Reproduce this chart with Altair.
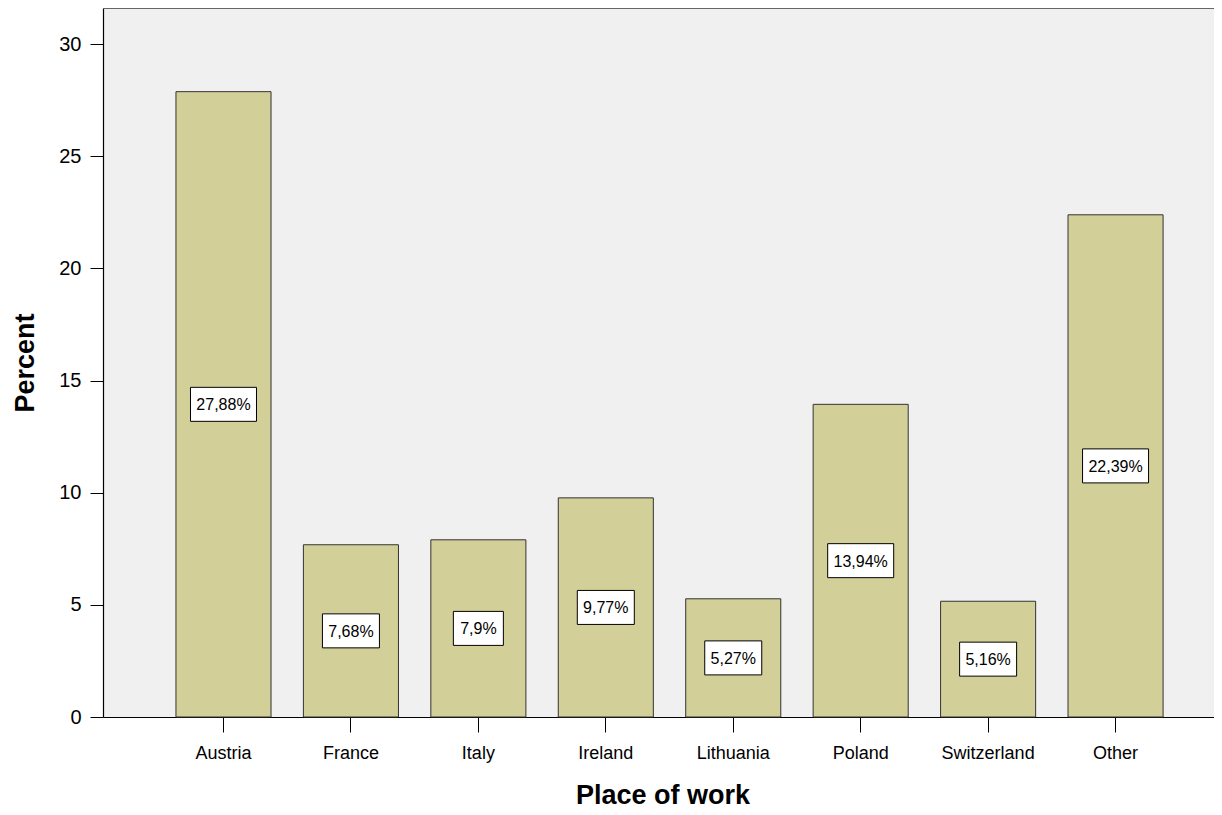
import altair as alt
import pandas as pd

categories = ["Austria", "France", "Italy", "Ireland", "Lithuania", "Poland", "Switzerland", "Other"]
values = [27.88, 7.68, 7.9, 9.77, 5.27, 13.94, 5.16, 22.39]
labels = [f"{v:g}".replace(".", ",") + "%" for v in values]
y_ticks = [0, 5, 10, 15, 20, 25, 30]

df = pd.DataFrame({"cat": categories, "pct": values, "label": labels})
df["mid"] = df["pct"] / 2
df["nchar"] = df["label"].str.len()

W, H = 1111, 709
FONT = "Liberation Sans"
box_w = {4: 50, 5: 57, 6: 66}

x = alt.X(
    "cat:N",
    sort=categories,
    scale=alt.Scale(paddingInner=0.254, paddingOuter=0.486, align=0.589),
    axis=alt.Axis(
        title="Place of work", labelAngle=0, labelFontSize=18, labelFont=FONT,
        labelColor="black", tickSize=15, labelPadding=12, tickColor="black",
        domainColor="black", domainWidth=1.2, titleFont=FONT, titleFontSize=27,
        titleFontWeight="bold", titleColor="black", titleY=65, titleX=W / 2 + 4,
    ),
)
y = alt.Y(
    "pct:Q",
    scale=alt.Scale(domain=[0, 31.61], nice=False, zero=True),
    axis=alt.Axis(
        title="Percent", values=y_ticks, grid=False, labelFontSize=20, labelFont=FONT,
        labelColor="black", tickSize=13, labelPadding=9, tickColor="black",
        domainColor="black", domainWidth=1.2, titleFont=FONT, titleFontSize=27,
        titleFontWeight="bold", titleColor="black", titleX=-64, titleY=H / 2,
        titleAngle=270, titleBaseline="bottom", titleAlign="center",
    ),
)

base = alt.Chart(df)

bars = base.mark_bar(fill="#D3CF98", stroke="#333333", strokeWidth=1).encode(x=x, y=y)

top_border = base.mark_rule(color="#666666", strokeWidth=1).encode(
    x=alt.value(0), x2=alt.value(W), y=alt.value(0)
)

boxes = []
for n, w in box_w.items():
    boxes.append(
        base.transform_filter(alt.datum.nchar == n)
        .mark_bar(width=w, fill="white", stroke="black", strokeWidth=1, yOffset=-17, y2Offset=17)
        .encode(x=alt.X("cat:N", sort=categories), y=alt.Y("mid:Q"), y2=alt.Y2("mid:Q"))
    )

texts = base.mark_text(font=FONT, fontSize=16, color="black", align="center", baseline="middle", dy=1).encode(
    x=alt.X("cat:N", sort=categories), y=alt.Y("mid:Q"), text="label:N"
)

chart = (
    alt.layer(bars, top_border, *boxes, texts)
    .properties(
        width=W, height=H,
        background="white",
        autosize=alt.AutoSizeParams(type="none"),
        padding={"left": 95, "top": 0, "right": 0, "bottom": 91},
    )
    .configure_view(fill="#F0F0F0", strokeWidth=0)
)

chart.save("out.html", embed_options={"renderer": "svg", "actions": False})
